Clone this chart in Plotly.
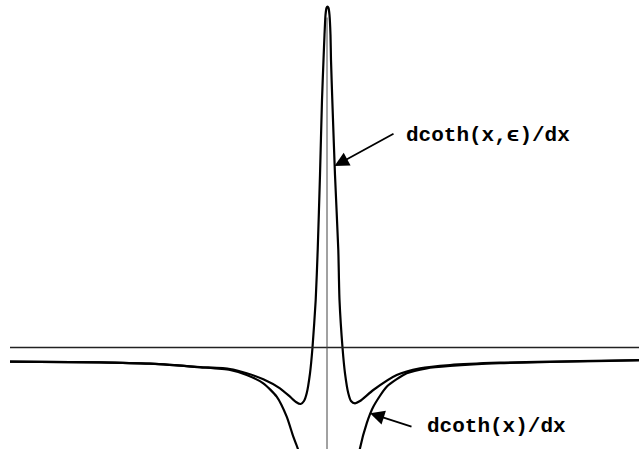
import plotly.graph_objs as go

# values (x: 0 at the vertical axis, y: 0 at the horizontal axis)
eps_x = [-3.175, -2.275, -1.775, -1.275, -0.975, -0.808, -0.642, -0.475, -0.375, -0.315,
         -0.268, -0.235, -0.208, -0.175, -0.15, -0.118, -0.098, -0.075, -0.055, -0.04,
         -0.03, -0.02, -0.01, 0.0, 0.01, 0.02, 0.03, 0.035, 0.048, 0.075,
         0.108, 0.12, 0.15, 0.175, 0.208, 0.235, 0.275, 0.325, 0.458, 0.692,
         0.925, 1.225, 1.725, 2.225, 3.115]
eps_y = [-0.142, -0.148, -0.162, -0.195, -0.215, -0.258, -0.318, -0.408, -0.492, -0.545,
         -0.565, -0.535, -0.458, -0.258, 0.0, 0.475, 0.975, 1.725, 2.475, 2.875,
         3.125, 3.325, 3.395, 3.41, 3.395, 3.325, 3.125, 2.875, 2.475, 1.725,
         0.975, 0.475, 0.0, -0.258, -0.458, -0.535, -0.558, -0.535, -0.425, -0.275,
         -0.208, -0.175, -0.152, -0.142, -0.125]

coth_left_x = [-3.175, -2.275, -1.775, -1.275, -0.975, -0.808, -0.642, -0.508, -0.408, -0.342, -0.298, -0.275]
coth_left_y = [-0.142, -0.148, -0.162, -0.198, -0.225, -0.275, -0.358, -0.492, -0.692, -0.892, -1.008, -1.105]
coth_right_x = [0.31, 0.325, 0.392, 0.458, 0.592, 0.792, 0.992, 1.225, 1.725, 2.225, 3.115]
coth_right_y = [-1.105, -1.008, -0.758, -0.592, -0.392, -0.258, -0.208, -0.185, -0.157, -0.145, -0.128]

labels = ['dcoth(x,\u03f5)/dx', 'dcoth(x)/dx']

fig = go.Figure()

# axes drawn as plain lines
fig.add_shape(type='line', x0=-3.175, x1=3.2, y0=0, y1=0, line=dict(color='#222', width=1.5))
fig.add_shape(type='line', x0=-0.005, x1=-0.005, y0=-1.1, y1=3.3, line=dict(color='#444', width=1))

curve = dict(color='black', width=2.2, shape='spline', smoothing=0.6)
fig.add_trace(go.Scatter(x=eps_x, y=eps_y, mode='lines', line=curve))
fig.add_trace(go.Scatter(x=coth_left_x, y=coth_left_y, mode='lines', line=curve))
fig.add_trace(go.Scatter(x=coth_right_x, y=coth_right_y, mode='lines', line=curve))

lab_font = dict(family='Liberation Mono, Courier New, monospace', size=21, color='black', weight='bold')

# arrows
fig.add_annotation(x=0.07, y=1.815, ax=0.675, ay=2.145, axref='x', ayref='y', text='',
                   showarrow=True, arrowhead=2, arrowsize=1.6, arrowwidth=1.8, arrowcolor='black')
fig.add_annotation(x=0.425, y=-0.658, ax=0.855, ay=-0.795, axref='x', ayref='y', text='',
                   showarrow=True, arrowhead=2, arrowsize=1.6, arrowwidth=1.8, arrowcolor='black')

# labels
fig.add_annotation(x=0.765, y=2.125, text=labels[0], showarrow=False, xanchor='left', font=lab_font)
fig.add_annotation(x=0.975, y=-0.785, text=labels[1], showarrow=False, xanchor='left', font=lab_font)

fig.update_layout(width=639, height=449, margin=dict(l=0, r=0, t=0, b=0),
                  paper_bgcolor='white', plot_bgcolor='white', showlegend=False,
                  xaxis=dict(range=[-3.275, 3.115], visible=False),
                  yaxis=dict(range=[-1.015, 3.475], visible=False))

# drop the browser's default body margin so the figure sits at the page corner
fig.write_html("out.html", config={'displayModeBar': False},
               post_script="document.body.style.margin='0';")
